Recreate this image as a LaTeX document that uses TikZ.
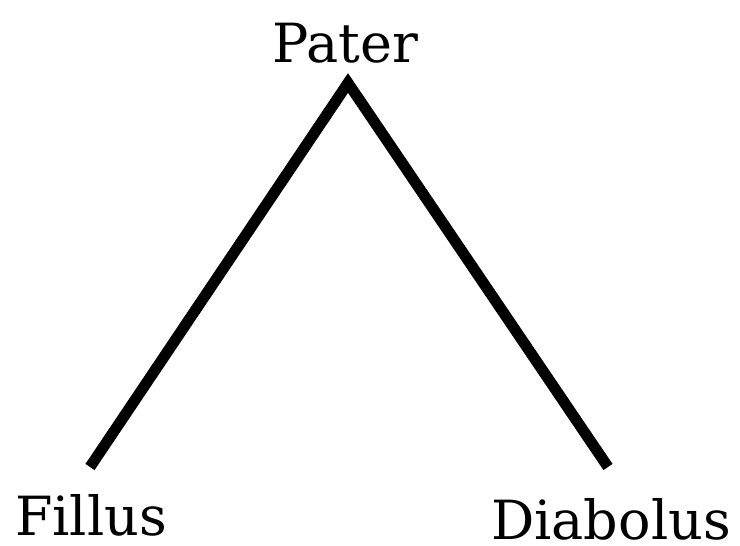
\documentclass[tikz,border=0pt]{standalone}
\usepackage{fontspec}
\setmainfont{DejaVu Serif}
\begin{document}
\begin{tikzpicture}[x=1pt, y=-1pt,
  every node/.style={font=\fontsize{54}{60}\selectfont, inner sep=0pt, anchor=base},
  branch/.style={line width=11pt, line join=miter, line cap=butt}]

  \useasboundingbox (0,0) rectangle (740,546);

  % Names
  \node (pater) at (345,62) {Pater};
  \node (fillus) at (91,535) {Fillus};
  \node (diabolus) at (611,539) {Diabolus};

  % Line ends
  \coordinate (apex) at (348,83);
  \coordinate (lfoot) at (90,467);
  \coordinate (rfoot) at (608,467);

  % Branches
  \draw[branch] (lfoot) -- (apex) -- (rfoot);
\end{tikzpicture}
\end{document}
